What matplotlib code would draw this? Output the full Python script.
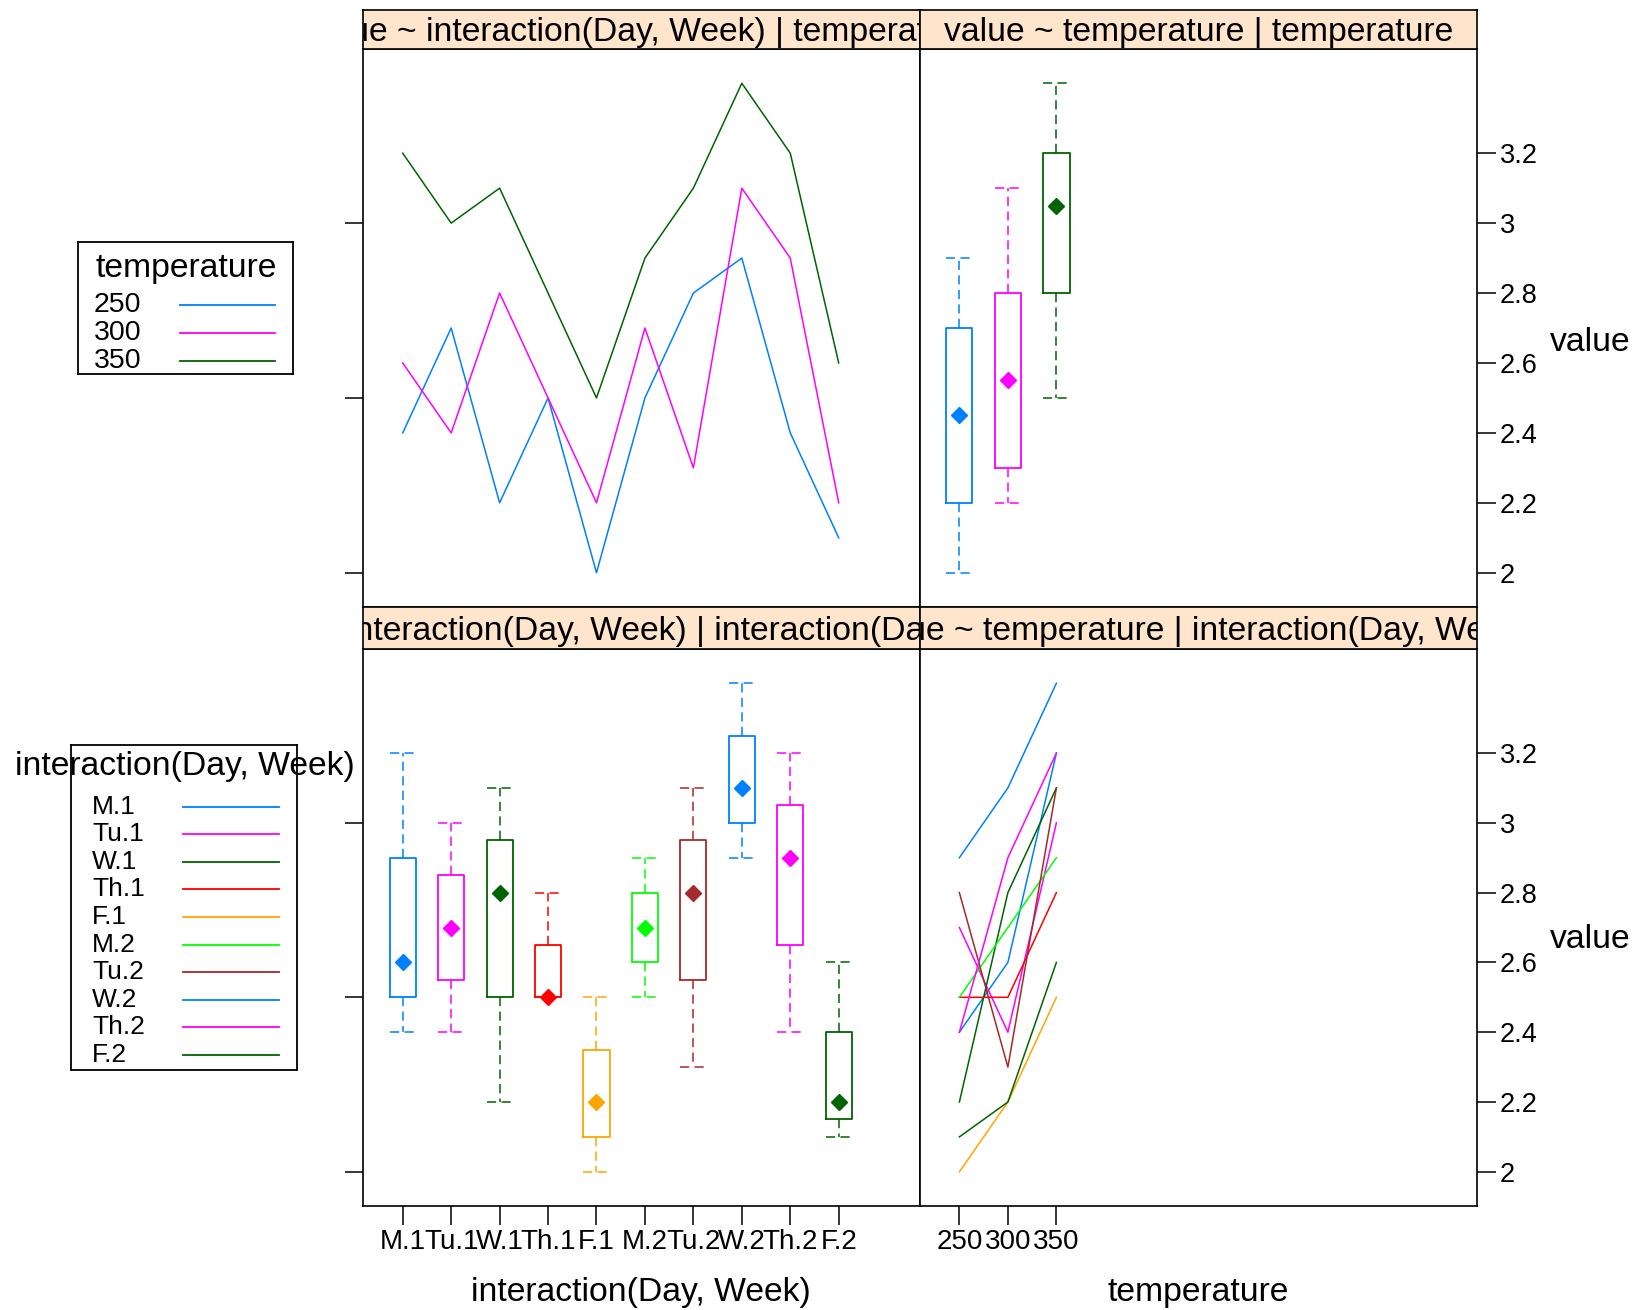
import math
import numpy as np
import matplotlib
matplotlib.use("Agg")
import matplotlib.pyplot as plt

plt.rcParams['font.family'] = ['Liberation Sans', 'DejaVu Sans']

# =============================================================
# DONNEES
# =============================================================
levels = ["M.1", "Tu.1", "W.1", "Th.1", "F.1", "M.2", "Tu.2", "W.2", "Th.2", "F.2"]
temps = ["250", "300", "350"]

val_250 = [2.4, 2.7, 2.2, 2.5, 2.0, 2.5, 2.8, 2.9, 2.4, 2.1]
val_300 = [2.6, 2.4, 2.8, 2.5, 2.2, 2.7, 2.3, 3.1, 2.9, 2.2]
val_350 = [3.2, 3.0, 3.1, 2.8, 2.5, 2.9, 3.1, 3.4, 3.2, 2.6]

temp_colors = ["#0080ff", "#ff00ff", "#006400"]
level_colors = ["#0080ff", "#ff00ff", "#006400", "#ff0000", "#ffa500",
                "#00ff00", "#a52a2a", "#0080ff", "#ff00ff", "#006400"]

y_ticks = [2, 2.2, 2.4, 2.6, 2.8, 3, 3.2]
y_ticklabels = ["2", "2.2", "2.4", "2.6", "2.8", "3", "3.2"]

by_temp = [val_250, val_300, val_350]
by_level = [[val_250[i], val_300[i], val_350[i]] for i in range(len(levels))]

# =============================================================
# MISE EN PAGE (pixels)
# =============================================================
W, H = 1641, 1310
fig = plt.figure(figsize=(W / 100, H / 100), dpi=100)


def rect(x0, y0, x1, y1):
    return [x0 / W, 1 - y1 / H, (x1 - x0) / W, (y1 - y0) / H]


XL, XM, XR = 363, 919.6, 1477
ylim = (1.902, 3.498)
xlim = (0.18, 11.67)
TXT = 24.3
YTICK = 19.5
XTICK = 20


def fivenum(v):
    s = sorted(v)
    n = len(s)
    n4 = math.floor((n + 3) / 2) / 2
    d = [1, n4, (n + 1) / 2, n + 1 - n4, n]
    return [0.5 * (s[math.floor(k - 1)] + s[math.ceil(k - 1)]) for k in d]


def draw_box(ax, values, pos, c):
    f = fivenum(values)
    st = dict(whislo=f[0], q1=f[1], med=f[2], q3=f[3], whishi=f[4], fliers=[])
    dash = dict(color=c, lw=1.1, linestyle=(0, (6, 3.5)))
    ax.bxp([st], positions=[pos], widths=0.54, capwidths=0.54, showfliers=False,
           boxprops=dict(color=c, lw=1.3), whiskerprops=dash, capprops=dash,
           medianprops=dict(linewidth=0))
    ax.plot([pos], [f[2]], marker="D", ms=7.8, color=c, ls="none")


def panel(y0, y1, left):
    x0, x1 = (XL, XM) if left else (XM, XR)
    ax = fig.add_axes(rect(x0, y0, x1, y1))
    ax.set_xlim(*xlim)
    ax.set_ylim(*ylim)
    for sp in ax.spines.values():
        sp.set_linewidth(1.2)
    if left:
        ax.set_yticks([2, 2.5, 3])
        ax.tick_params(axis="y", left=True, labelleft=False, length=13, width=1.1)
    else:
        ax.yaxis.tick_right()
        ax.set_yticks(y_ticks)
        ax.set_yticklabels(y_ticklabels)
        ax.tick_params(axis="y", right=True, length=13.7, width=1.1, pad=2.5,
                       labelsize=YTICK)
    return ax


def strip(y0, y1, left, label):
    x0, x1 = (XL, XM) if left else (XM, XR)
    ax = fig.add_axes(rect(x0, y0, x1, y1))
    ax.set_facecolor("#ffe5cc")
    ax.set_xticks([])
    ax.set_yticks([])
    for sp in ax.spines.values():
        sp.set_linewidth(1.2)
    ax.text(0.5, 0.42, label, transform=ax.transAxes, ha="center", va="center",
            fontsize=TXT, clip_on=True)
    return ax


# --- panneau haut gauche : lignes par temperature
ax = panel(49, 607, True)
x = np.arange(1, len(levels) + 1)
for vals, c in zip(by_temp, temp_colors):
    ax.plot(x, vals, color=c, lw=1.1)
ax.tick_params(axis="x", bottom=False, labelbottom=False)
strip(10, 49, True, "value ~ interaction(Day, Week) | temperature")

# --- panneau haut droit : boites par temperature
ax = panel(49, 607, False)
for i, (vals, c) in enumerate(zip(by_temp, temp_colors)):
    draw_box(ax, vals, i + 1, c)
ax.tick_params(axis="x", bottom=False, labelbottom=False)
strip(10, 49, False, "value ~ temperature | temperature")

# --- panneau bas gauche : boites par jour
ax = panel(649, 1206, True)
for i, (vals, c) in enumerate(zip(by_level, level_colors)):
    draw_box(ax, vals, i + 1, c)
ax.set_xticks(x)
ax.set_xticklabels(levels)
ax.tick_params(axis="x", length=13.7, width=1.1, pad=3, labelsize=XTICK)
strip(607, 649, True, "value ~ interaction(Day, Week) | interaction(Day, Week)")

# --- panneau bas droit : lignes par jour
ax = panel(649, 1206, False)
xt = np.arange(1, len(temps) + 1)
for vals, c in zip(by_level, level_colors):
    ax.plot(xt, vals, color=c, lw=1.1)
ax.set_xticks(xt)
ax.set_xticklabels(temps)
ax.tick_params(axis="x", length=13.7, width=1.1, pad=3, labelsize=XTICK)
strip(607, 649, False, "value ~ temperature | interaction(Day, Week)")

# --- titres d'axes
fig.text(1550 / W, 1 - 342 / H, "value", ha="left", va="center", fontsize=TXT)
fig.text(1550 / W, 1 - 940 / H, "value", ha="left", va="center", fontsize=TXT)
fig.text((XL + XM) / 2 / W, 1 - 1292 / H, "interaction(Day, Week)",
         ha="center", va="center", fontsize=TXT)
fig.text((XM + XR) / 2 / W, 1 - 1292 / H, "temperature",
         ha="center", va="center", fontsize=TXT)


# =============================================================
# LEGENDES
# =============================================================
def legende(x0, y0, x1, y1, title, title_y, names, colors, first_y, step,
            text_x, line_x0, line_x1, size):
    lg = fig.add_axes(rect(x0, y0, x1, y1))
    lg.set_xlim(x0, x1)
    lg.set_ylim(y1, y0)
    lg.set_xticks([])
    lg.set_yticks([])
    for sp in lg.spines.values():
        sp.set_linewidth(1.3)
    lg.text((x0 + x1) / 2 + 1, title_y, title, ha="center", va="center",
            fontsize=TXT, clip_on=False)
    for k, (nm, c) in enumerate(zip(names, colors)):
        yy = first_y + k * step
        lg.text(text_x, yy, nm, ha="left", va="center", fontsize=size,
                clip_on=False)
        lg.plot([line_x0, line_x1], [yy, yy], color=c, lw=1.3)


legende(78, 242, 293, 374, "temperature", 268, temps, temp_colors,
        305, 27.8, 94, 180, 275, 20.5)
legende(71, 745, 297, 1070, "interaction(Day, Week)", 767, levels, level_colors,
        806.5, 27.6, 92, 183, 279, 19)

fig.savefig("out.png", dpi=100)
